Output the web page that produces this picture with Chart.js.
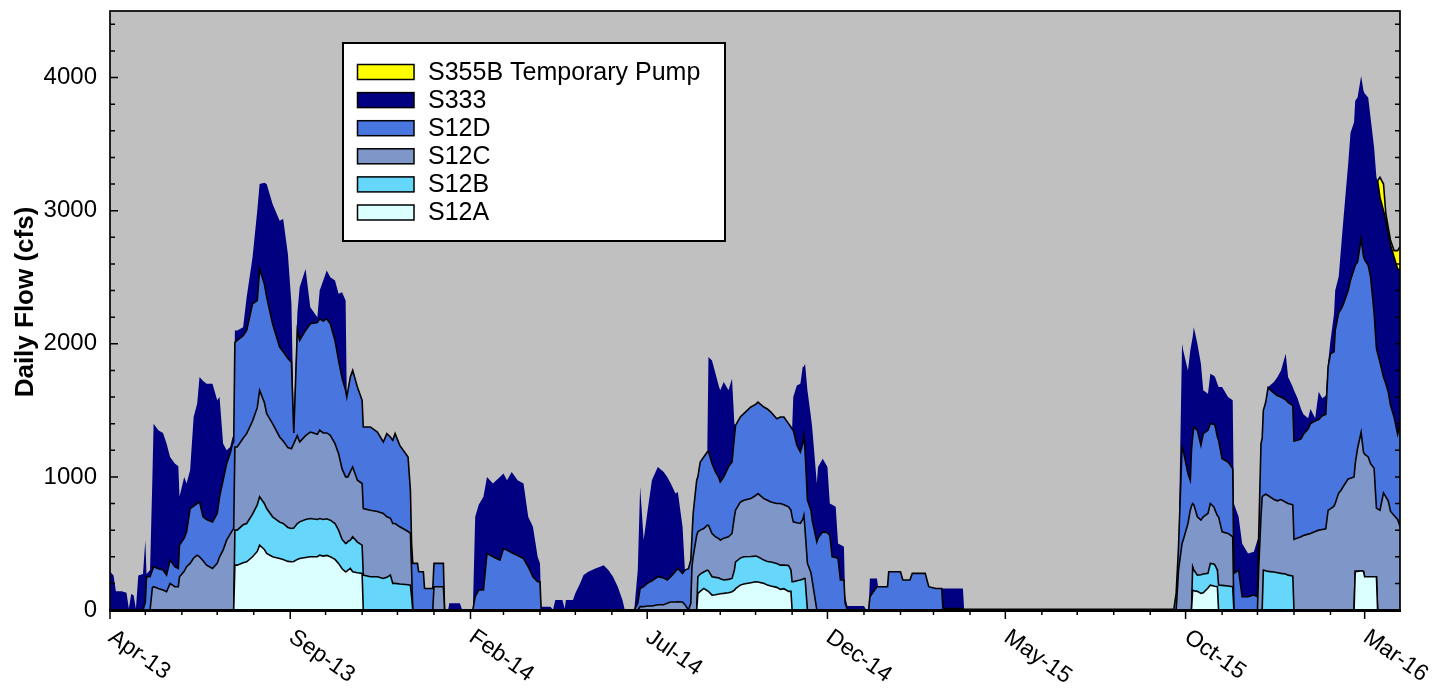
<!DOCTYPE html>
<html>
<head>
<meta charset="utf-8">
<script src="https://cdn.jsdelivr.net/npm/chart.js@4.4.1/dist/chart.umd.min.js"></script>
<style>
  html, body { margin: 0; padding: 0; background: #fff; }
  canvas { display: block; }
</style>
</head>
<body>
<canvas id="flow" width="1434" height="689"></canvas>
<script>
// day offsets from 1 Apr 2013
const days = [
  0, 3, 5, 10, 14, 16, 18, 20, 22, 24,
  28, 30, 31, 34, 36, 37, 41, 45, 48, 51,
  55, 58, 59, 63, 65, 68, 71, 74, 76, 79,
  82, 87, 91, 93, 96, 99, 102, 104, 105, 106,
  108, 113, 116, 121, 125, 127, 131, 133, 138, 144,
  147, 151, 154, 156, 159, 161, 166, 170, 176, 178,
  181, 184, 187, 191, 194, 197, 200, 201, 202, 204,
  206, 210, 214, 215, 221, 227, 232, 235, 238, 240,
  242, 246, 253, 255, 256, 257, 261, 262, 266, 267,
  274, 275, 283, 284, 287, 288, 297, 299, 308, 310,
  313, 317, 320, 325, 331, 334, 337, 341, 346, 351,
  355, 359, 363, 365, 366, 374, 376, 378, 384, 386,
  387, 393, 395, 399, 402, 406, 412, 416, 419, 423,
  427, 431, 435, 437, 445, 448, 450, 453, 456, 460,
  465, 470, 473, 476, 480, 482, 486, 488, 491, 493,
  494, 495, 498, 499, 501, 504, 507, 508, 511, 514,
  517, 518, 521, 525, 528, 530, 531, 535, 538, 544,
  548, 550, 555, 558, 561, 566, 569, 572, 576, 578,
  579, 580, 583, 586, 588, 589, 590, 592, 595, 596,
  600, 601, 605, 609, 611, 613, 616, 618, 620, 623,
  624, 626, 640, 642, 644, 645, 651, 652, 660, 661,
  671, 673, 679, 681, 692, 695, 701, 706, 707, 724,
  725, 903, 905, 907, 910, 911, 915, 917, 918, 919,
  920, 923, 926, 928, 932, 934, 937, 938, 940, 941,
  944, 949, 953, 954, 958, 961, 966, 971, 974, 975,
  977, 978, 979, 981, 983, 988, 991, 994, 998, 1000,
  1004, 1005, 1008, 1011, 1013, 1017, 1019, 1023, 1026, 1029,
  1032, 1034, 1036, 1039, 1040, 1043, 1045, 1047, 1051, 1053,
  1056, 1057, 1059, 1062, 1064, 1065, 1068, 1070, 1073, 1075,
  1076, 1078, 1081, 1083, 1085, 1087, 1090, 1093, 1095
];

const s12a = [
  0, 0, 0, 0, 0, 0, 0, 0, 0, 0,
  0, 0, 0, 0, 0, 0, 0, 0, 0, 0,
  0, 0, 0, 0, 0, 0, 0, 0, 0, 0,
  0, 0, 0, 0, 0, 0, 0, 0, 0, 337,
  337, 355, 362, 400, 440, 487, 455, 425, 400, 387,
  380, 365, 362, 365, 380, 387, 395, 400, 400, 412,
  405, 410, 400, 380, 350, 310, 287, 290, 300, 312,
  287, 280, 275, 0, 0, 0, 0, 0, 0, 0,
  0, 0, 0, 0, 0, 0, 0, 0, 0, 0,
  0, 0, 0, 0, 0, 0, 0, 0, 0, 0,
  0, 0, 0, 0, 0, 0, 0, 0, 0, 0,
  0, 0, 0, 0, 0, 0, 0, 0, 0, 0,
  0, 0, 0, 0, 0, 0, 0, 0, 0, 0,
  0, 0, 0, 0, 0, 0, 0, 0, 0, 0,
  0, 0, 0, 0, 0, 0, 0, 0, 0, 0,
  0, 0, 0, 125, 140, 162, 145, 140, 112, 115,
  120, 122, 125, 130, 137, 150, 160, 187, 195, 205,
  212, 210, 200, 187, 180, 170, 155, 160, 140, 140,
  0, 0, 0, 0, 0, 0, 0, 0, 0, 0,
  0, 0, 0, 0, 0, 0, 0, 0, 0, 0,
  0, 0, 0, 0, 0, 0, 0, 0, 0, 0,
  0, 0, 0, 0, 0, 0, 0, 0, 0, 0,
  0, 0, 0, 0, 0, 0, 0, 0, 0, 150,
  145, 140, 125, 130, 165, 187, 180, 178, 175, 0,
  0, 0, 0, 0, 0, 0, 0, 0, 0, 0,
  0, 0, 0, 0, 0, 0, 0, 0, 0, 0,
  0, 0, 0, 0, 0, 0, 0, 0, 0, 0,
  0, 0, 0, 0, 0, 0, 0, 0, 0, 0,
  0, 290, 290, 295, 290, 250, 250, 250, 250, 250,
  0, 0, 0, 0, 0, 0, 0, 0, 0
];

const s12b = [
  0, 0, 0, 0, 0, 0, 0, 0, 0, 0,
  0, 0, 0, 0, 0, 0, 0, 0, 0, 0,
  0, 0, 0, 0, 0, 0, 0, 0, 0, 0,
  0, 0, 0, 0, 0, 0, 0, 0, 0, 263,
  263, 285, 288, 320, 350, 363, 345, 337, 300, 273,
  270, 255, 250, 250, 270, 275, 285, 287, 280, 275,
  275, 275, 275, 270, 250, 220, 213, 215, 215, 213,
  263, 230, 212, 262, 250, 250, 237, 245, 262, 200,
  200, 195, 190, 187, 100, 0, 0, 0, 0, 0,
  0, 0, 0, 0, 0, 0, 0, 0, 0, 0,
  0, 0, 0, 0, 0, 0, 0, 0, 0, 0,
  0, 0, 0, 0, 0, 0, 0, 0, 0, 0,
  0, 0, 0, 0, 0, 0, 0, 0, 0, 0,
  0, 0, 0, 0, 0, 0, 0, 0, 0, 0,
  0, 0, 0, 0, 0, 0, 0, 0, 0, 0,
  0, 0, 0, 125, 130, 123, 155, 155, 138, 130,
  120, 113, 100, 100, 100, 150, 202, 203, 205, 197,
  193, 190, 175, 178, 180, 180, 182, 177, 195, 160,
  212, 212, 220, 225, 230, 237, 237, 0, 0, 0,
  0, 0, 0, 0, 0, 0, 0, 0, 0, 0,
  0, 0, 0, 0, 0, 0, 0, 0, 0, 0,
  0, 0, 0, 0, 0, 0, 0, 0, 0, 0,
  0, 0, 0, 0, 0, 0, 0, 0, 0, 175,
  155, 122, 140, 140, 110, 163, 165, 159, 125, 187,
  185, 180, 175, 0, 0, 0, 0, 0, 0, 0,
  0, 0, 300, 295, 290, 285, 280, 275, 270, 262,
  255, 0, 0, 0, 0, 0, 0, 0, 0, 0,
  0, 0, 0, 0, 0, 0, 0, 0, 0, 0,
  0, 0, 0, 0, 0, 0, 0, 0, 0, 0,
  0, 0, 0, 0, 0, 0, 0, 0, 0
];

const s12c = [
  0, 0, 0, 0, 0, 0, 0, 0, 0, 0,
  0, 0, 0, 0, 170, 175, 162, 150, 137, 200,
  175, 175, 250, 290, 325, 350, 390, 412, 400, 370,
  337, 312, 350, 400, 450, 525, 570, 600, 610, 625,
  625, 650, 675, 700, 730, 800, 760, 713, 700, 640,
  620, 600, 600, 635, 660, 600, 630, 650, 640, 663,
  650, 645, 637, 600, 575, 530, 500, 495, 485, 515,
  525, 465, 463, 500, 500, 490, 488, 455, 428, 450,
  450, 430, 400, 388, 200, 0, 0, 0, 0, 0,
  0, 175, 175, 0, 0, 0, 0, 0, 0, 0,
  0, 0, 0, 0, 0, 0, 0, 0, 0, 0,
  0, 0, 0, 0, 0, 0, 0, 0, 0, 0,
  0, 0, 0, 0, 0, 0, 0, 0, 0, 0,
  0, 0, 0, 0, 0, 0, 25, 25, 30, 30,
  40, 40, 50, 60, 60, 62, 60, 40, 0, 50,
  325, 400, 560, 337, 330, 327, 337, 342, 325, 305,
  295, 290, 315, 320, 338, 400, 388, 420, 425, 435,
  455, 475, 462, 460, 452, 450, 463, 453, 440, 450,
  488, 450, 435, 425, 450, 475, 363, 350, 280, 225,
  0, 0, 0, 0, 0, 0, 0, 0, 0, 0,
  0, 0, 0, 0, 0, 0, 0, 0, 0, 0,
  0, 0, 0, 0, 0, 0, 0, 0, 0, 0,
  0, 0, 0, 300, 500, 525, 650, 750, 780, 475,
  490, 438, 410, 430, 450, 450, 430, 413, 410, 513,
  402, 395, 375, 0, 0, 0, 0, 0, 0, 300,
  700, 850, 560, 575, 570, 545, 540, 555, 540, 538,
  535, 530, 540, 550, 560, 570, 575, 590, 600, 605,
  610, 750, 760, 780, 800, 880, 900, 930, 985, 990,
  1000, 810, 925, 1040, 895, 920, 900, 850, 815, 515,
  760, 750, 880, 850, 820, 740, 710, 680, 630
];

const s12d = [
  0, 0, 0, 0, 0, 0, 0, 0, 0, 0,
  0, 60, 250, 250, 130, 150, 148, 150, 125, 175,
  150, 137, 237, 250, 262, 412, 390, 388, 412, 330,
  343, 350, 375, 450, 525, 575, 605, 650, 650, 785,
  800, 770, 775, 880, 805, 912, 890, 875, 750, 675,
  670, 670, 650, 80, 790, 763, 790, 813, 840, 837,
  840, 857, 838, 775, 700, 680, 650, 600, 650, 710,
  725, 700, 625, 613, 625, 597, 537, 625, 610, 625,
  675, 612, 560, 325, 200, 350, 350, 287, 287, 162,
  162, 175, 175, 0, 0, 0, 0, 0, 0, 100,
  150, 150, 425, 400, 375, 462, 450, 430, 410, 387,
  325, 250, 212, 212, 0, 0, 0, 0, 0, 0,
  0, 0, 0, 0, 0, 0, 0, 0, 0, 0,
  0, 0, 0, 0, 0, 50, 137, 150, 170, 190,
  210, 200, 175, 190, 230, 250, 215, 260, 310, 325,
  225, 325, 415, 413, 512, 538, 550, 553, 525, 487,
  455, 437, 460, 525, 537, 600, 637, 640, 650, 688,
  685, 687, 688, 685, 675, 637, 650, 660, 625, 625,
  660, 688, 585, 537, 570, 600, 600, 475, 470, 450,
  512, 540, 587, 580, 560, 400, 395, 387, 225, 225,
  50, 0, 0, 0, 0, 100, 175, 175, 175, 287,
  287, 225, 225, 275, 275, 175, 162, 162, 12, 10,
  5, 5, 125, 175, 725, 675, 375, 225, 420, 500,
  585, 650, 562, 625, 625, 600, 620, 637, 590, 575,
  550, 537, 512, 275, 300, 100, 100, 112, 100, 240,
  550, 440, 640, 690, 810, 800, 790, 770, 770, 760,
  745, 740, 735, 735, 760, 790, 825, 830, 830, 855,
  860, 1080, 1165, 1160, 1300, 1355, 1360, 1370, 1415, 1490,
  1560, 1490, 1400, 1455, 1470, 1460, 1440, 1405, 1170, 1200,
  1170, 1110, 870, 850, 820, 795, 740, 640, 760
];

const s333 = [
  290, 260, 140, 140, 130, 10, 120, 110, 10, 260,
  270, 465, 20, 50, 700, 1075, 1040, 1030, 988, 775,
  775, 768, 363, 460, 363, 288, 670, 750, 938, 1020,
  1020, 1038, 850, 750, 275, 100, 50, 50, 40, 90,
  75, 65, 250, 350, 675, 638, 760, 850, 900, 950,
  997, 785, 438, 70, 125, 400, 462, 125, 40, 213,
  305, 363, 350, 450, 500, 647, 675, 0, 0, 0,
  0, 0, 0, 0, 0, 0, 0, 0, 0, 0,
  0, 0, 0, 0, 0, 0, 0, 0, 0, 0,
  0, 0, 0, 0, 0, 50, 50, 0, 0, 600,
  640, 700, 575, 550, 625, 563, 525, 607, 565, 563,
  375, 375, 188, 138, 25, 25, 0, 75, 75, 10,
  75, 75, 125, 200, 262, 287, 312, 325, 337, 300,
  250, 175, 75, 0, 0, 250, 763, 350, 525, 755,
  825, 797, 775, 700, 585, 575, 350, 0, 0, 0,
  0, 0, 0, 0, 0, 0, 0, 710, 775, 738,
  685, 688, 712, 575, 625, 100, 0, 0, 0, 0,
  0, 0, 0, 0, 0, 0, 0, 0, 0, 0,
  0, 250, 447, 513, 575, 518, 650, 825, 700, 700,
  438, 535, 550, 495, 240, 390, 380, 113, 265, 250,
  50, 30, 30, 0, 0, 137, 62, 0, 0, 0,
  0, 0, 0, 0, 0, 0, 0, 0, 150, 152,
  0, 0, 0, 0, 775, 750, 775, 975, 800, 750,
  750, 650, 613, 325, 275, 375, 365, 363, 400, 400,
  538, 488, 513, 525, 400, 400, 325, 325, 425, 0,
  0, 0, 0, 0, 5, 82, 140, 200, 345, 190,
  140, 380, 315, 225, 150, 80, 110, 20, 210, 130,
  140, 30, 100, 285, 300, 270, 465, 640, 950, 1105,
  1105, 1235, 1235, 1222, 1245, 1250, 1260, 1195, 1240, 1285,
  1295, 1240, 1250, 1225, 1185, 1205, 1200, 1240, 1170
];

// temporary pump only ran at the very end of the record
const pumpDays = [1076, 1078, 1081, 1083, 1085, 1087, 1090, 1093, 1095];
const s355b = [0, 150, 200, 50, 50, 35, 50, 140, 170];

const yTicks = [0, 1000, 2000, 3000, 4000];
const tickLabels = ['Apr-13', 'Sep-13', 'Feb-14', 'Jul-14', 'Dec-14', 'May-15', 'Oct-15', 'Mar-16'];

// month starts Apr-13 .. Mar-16 as day offsets (minor ticks), every 5th is labelled
const origin = Date.UTC(2013, 3, 1);
const monthDays = [];
for (let i = 0; i < 36; i++) {
  monthDays.push((Date.UTC(2013, 3 + i, 1) - origin) / 864e5);
}

const pump = days.map(d => {
  const k = pumpDays.indexOf(d);
  return k < 0 ? 0 : s355b[k];
});

const FONT = "'Liberation Sans', Arial, sans-serif";
Chart.defaults.font.family = FONT;
Chart.defaults.color = '#000';

function series(label, values, color, extra) {
  return Object.assign({
    label: label,
    data: days.map((d, i) => ({ x: d, y: values[i] })),
    backgroundColor: color,
    borderColor: '#000',
    borderWidth: 1.6,
    fill: '-1',
    pointRadius: 0,
    tension: 0
  }, extra || {});
}

const datasets = [
  series('S12A', s12a, '#dbffff', { fill: 'origin' }),
  series('S12B', s12b, '#66d7fa'),
  series('S12C', s12c, '#7f96c8'),
  series('S12D', s12d, '#4876de'),
  series('S333', s333, '#000080', { borderColor: 'rgba(0,0,0,0)', borderWidth: 0 }),
  series('S355B Temporary Pump', pump, '#ffff00', {
    segment: {
      borderColor: ctx => (pump[ctx.p0DataIndex] > 0 || pump[ctx.p1DataIndex] > 0) ? '#000' : 'rgba(0,0,0,0)'
    }
  })
];

const frame = {
  id: 'frame',
  beforeDraw(chart) {
    const { ctx, chartArea: a } = chart;
    ctx.save();
    ctx.fillStyle = '#fff';
    ctx.fillRect(0, 0, chart.width, chart.height);
    ctx.fillStyle = '#c0c0c0';
    ctx.fillRect(a.left, a.top, a.right - a.left, a.bottom - a.top);
    ctx.restore();
  },
  afterDatasetsDraw(chart) {
    const { ctx, chartArea: a, scales: { x, y } } = chart;
    ctx.save();
    ctx.strokeStyle = '#000';

    // lower outline of the pump band, along the S333 points
    const navy = chart.getDatasetMeta(4).data;
    const first = days.indexOf(pumpDays[0]);
    ctx.lineWidth = 1.6;
    ctx.beginPath();
    for (let i = first; i < days.length; i++) {
      if (i === first) ctx.moveTo(navy[i].x, navy[i].y);
      else ctx.lineTo(navy[i].x, navy[i].y);
    }
    ctx.stroke();

    ctx.lineWidth = 1.5;
    ctx.beginPath();
    for (let v = 200; v <= 4400; v += 200) {
      const py = y.getPixelForValue(v);
      ctx.moveTo(a.left, py);
      ctx.lineTo(a.left + (v % 1000 === 0 ? 8 : 5), py);
      ctx.moveTo(a.right, py);
      ctx.lineTo(a.right - 5, py);
    }
    monthDays.forEach((d, i) => {
      const px = x.getPixelForValue(d);
      ctx.moveTo(px, a.bottom);
      ctx.lineTo(px, a.bottom + (i % 5 === 0 ? 9 : 5));
    });
    ctx.stroke();

    ctx.lineWidth = 1.7;
    ctx.strokeRect(a.left, a.top, a.right - a.left, a.bottom - a.top);
    ctx.lineWidth = 3;
    ctx.beginPath();
    ctx.moveTo(a.left - 1, a.bottom + 0.5);
    ctx.lineTo(a.right + 1, a.bottom + 0.5);
    ctx.stroke();

    ctx.fillStyle = '#000';
    // rotated month labels, reading down to the right
    ctx.font = '23px ' + FONT;
    ctx.textAlign = 'left';
    ctx.textBaseline = 'middle';
    tickLabels.forEach((t, i) => {
      const px = x.getPixelForValue(monthDays[i * 5]);
      ctx.save();
      ctx.translate(px + 1, 635);
      ctx.rotate(35 * Math.PI / 180);
      ctx.fillText(t, 0, 0);
      ctx.restore();
    });

    // axis title
    ctx.font = 'bold 26px ' + FONT;
    ctx.textAlign = 'center';
    ctx.translate(26, 302);
    ctx.rotate(-Math.PI / 2);
    ctx.fillText('Daily Flow (cfs)', 0, 0);
    ctx.restore();
  },
  afterDraw(chart) {
    const ctx = chart.ctx;
    ctx.save();
    ctx.fillStyle = '#fff';
    ctx.fillRect(343, 43, 382, 198);
    ctx.strokeStyle = '#000';
    ctx.lineWidth = 2;
    ctx.strokeRect(343, 43, 382, 198);
    ctx.font = '25px ' + FONT;
    ctx.textBaseline = 'middle';
    ctx.lineWidth = 1.5;
    const order = chart.data.datasets.slice().reverse();
    order.forEach((ds, i) => {
      const cy = 72 + i * 28.1;
      ctx.fillStyle = ds.backgroundColor;
      ctx.fillRect(357.5, cy - 7.5, 56.5, 15);
      ctx.strokeRect(357.5, cy - 7.5, 56.5, 15);
      ctx.fillStyle = '#000';
      ctx.fillText(ds.label, 428, cy + 1);
    });
    ctx.restore();
  }
};

new Chart(document.getElementById('flow'), {
  type: 'line',
  data: { datasets: datasets },
  options: {
    responsive: false,
    animation: false,
    layout: { padding: { top: 11, right: 34, left: 0, bottom: 0 } },
    plugins: { legend: { display: false }, tooltip: { enabled: false } },
    scales: {
      x: {
        type: 'linear',
        min: 0,
        max: 1095,
        border: { display: false },
        grid: { display: false, drawTicks: false },
        ticks: { display: false },
        afterFit(scale) { scale.height = 79; }
      },
      y: {
        stacked: true,
        min: 0,
        max: 4500,
        border: { display: false },
        grid: { display: false, drawTicks: false },
        afterBuildTicks(scale) { scale.ticks = yTicks.map(v => ({ value: v })); },
        ticks: { padding: 13, font: { size: 24 }, callback: v => String(v) },
        afterFit(scale) {
          scale.width = 110;
          scale.paddingTop = 0;
          scale.paddingBottom = 0;
        }
      }
    }
  },
  plugins: [frame]
});
</script>
</body>
</html>
